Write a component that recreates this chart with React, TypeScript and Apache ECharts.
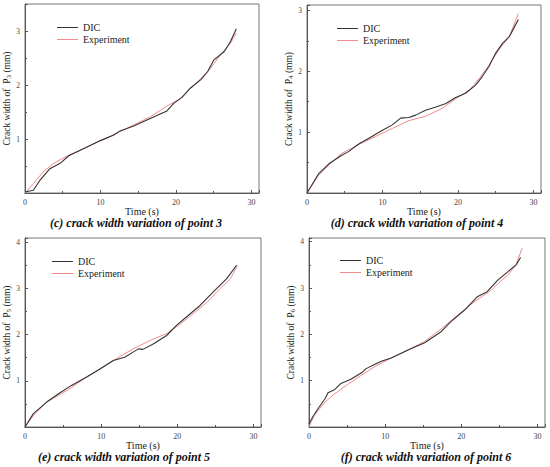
import React, { useEffect, useRef } from "react";
import * as echarts from "echarts";

// Panel (c) point 3
const p3DicT = [0, 1.1, 2.0, 3.3, 4.65, 5.8, 7.3, 10.0, 11.7, 12.6, 14.4, 16.6, 18.8, 19.7, 20.8, 21.9, 23.3, 24.2, 25.0, 26.4, 27.2, 28.0];
const p3DicV = [0.02, 0.05, 0.24, 0.45, 0.55, 0.69, 0.79, 0.97, 1.07, 1.15, 1.24, 1.38, 1.52, 1.66, 1.77, 1.94, 2.1, 2.25, 2.46, 2.62, 2.8, 3.04];
const p3ExpT = [0, 1.1, 2.4, 3.8, 5.5, 7.8, 10.0, 12.2, 14.4, 16.6, 18.8, 20.6, 21.9, 23.3, 24.6, 25.9, 27.2, 28.0];
const p3ExpV = [0, 0.17, 0.39, 0.55, 0.68, 0.82, 0.97, 1.11, 1.26, 1.41, 1.61, 1.75, 1.94, 2.12, 2.31, 2.56, 2.77, 2.96];

// Panel (d) point 4
const p4DicT = [0, 1.55, 2.9, 4.6, 5.5, 6.9, 8.2, 10.0, 11.3, 12.4, 13.5, 14.4, 15.7, 17.0, 18.4, 19.7, 21.0, 22.3, 23.2, 24.1, 25.0, 25.9, 26.8, 27.4, 28.0];
const p4DicV = [0, 0.32, 0.48, 0.62, 0.68, 0.81, 0.9, 1.03, 1.12, 1.23, 1.24, 1.28, 1.36, 1.41, 1.47, 1.57, 1.64, 1.77, 1.91, 2.08, 2.3, 2.46, 2.57, 2.71, 2.85];
const p4ExpT = [0, 1.55, 2.9, 4.6, 6.9, 9.1, 11.3, 13.5, 15.7, 17.9, 19.7, 21.5, 22.8, 24.1, 25.4, 26.8, 28.0];
const p4ExpV = [0, 0.29, 0.46, 0.65, 0.8, 0.93, 1.06, 1.19, 1.26, 1.39, 1.55, 1.69, 1.88, 2.1, 2.35, 2.57, 2.95];

// Panel (e) point 5
const p5DicT = [0, 1.1, 2.85, 4.6, 6.1, 8.1, 9.9, 11.6, 13.1, 14.2, 14.9, 15.5, 16.9, 18.6, 19.9, 21.2, 23.0, 24.7, 26.5, 27.8];
const p5DicV = [0, 0.29, 0.54, 0.74, 0.9, 1.08, 1.26, 1.44, 1.51, 1.62, 1.69, 1.68, 1.8, 1.98, 2.2, 2.38, 2.63, 2.92, 3.21, 3.5];
const p5ExpT = [0, 1.1, 2.85, 5.5, 8.1, 9.9, 12.0, 14.2, 16.4, 18.6, 20.4, 22.1, 23.9, 25.6, 27.0, 27.9];
const p5ExpV = [0, 0.25, 0.54, 0.79, 1.08, 1.26, 1.48, 1.69, 1.87, 2.02, 2.23, 2.45, 2.7, 2.99, 3.21, 3.5];

// Panel (f) point 6
const p6DicT = [0, 0.5, 1.2, 2.1, 2.5, 3.4, 4.2, 5.5, 6.9, 7.5, 8.6, 9.5, 10.8, 13.0, 15.2, 17.3, 18.6, 20.4, 22.1, 23.4, 24.8, 26.1, 27.2, 27.8];
const p6DicV = [0.07, 0.22, 0.4, 0.61, 0.74, 0.81, 0.94, 1.03, 1.17, 1.26, 1.35, 1.42, 1.49, 1.66, 1.82, 2.05, 2.27, 2.52, 2.81, 2.92, 3.17, 3.35, 3.5, 3.66];
const p6ExpT = [0, 0.7, 2.1, 3.4, 5.1, 6.9, 8.6, 10.8, 13.0, 15.2, 17.3, 19.5, 21.7, 23.9, 26.1, 27.2, 28.0];
const p6ExpV = [0, 0.25, 0.54, 0.72, 0.92, 1.12, 1.3, 1.49, 1.66, 1.85, 2.11, 2.41, 2.7, 2.95, 3.28, 3.5, 3.86];

const seriesNames = ["DIC", "Experiment"];
const pointLabels = ["3", "4", "5", "6"];
const captions = [
  "(c) crack width variation of point 3",
  "(d) crack width variation of point 4",
  "(e) crack width variation of point 5",
  "(f) crack width variation of point 6",
];
const xTicks = [0, 10, 20, 30];
const yMaxes = [3.5, 3.09, 4.09, 4.08];

const zip = (t: number[], v: number[]) => t.map((x, i) => [x, v[i]]);

const FONT = "Liberation Serif";

export default function App() {
  const ref = useRef<HTMLDivElement>(null);
  useEffect(() => {
    if (!ref.current) return;
    const chart = echarts.init(ref.current, undefined, { renderer: "svg" });

    const grids = [
      { left: 25, top: 4, width: 234, height: 189 },
      { left: 307, top: 5, width: 234, height: 188 },
      { left: 25, top: 238, width: 236, height: 189 },
      { left: 309, top: 238, width: 236, height: 189 },
    ];
    const data = [
      [zip(p3DicT, p3DicV), zip(p3ExpT, p3ExpV)],
      [zip(p4DicT, p4DicV), zip(p4ExpT, p4ExpV)],
      [zip(p5DicT, p5DicV), zip(p5ExpT, p5ExpV)],
      [zip(p6DicT, p6DicV), zip(p6ExpT, p6ExpV)],
    ];
    const legendPos = [
      { left: 52, top: 17 },
      { left: 332, top: 18 },
      { left: 47, top: 251 },
      { left: 335, top: 250 },
    ];
    const captionPos = [
      { x: 136, y: 223 },
      { x: 417, y: 223 },
      { x: 124, y: 457 },
      { x: 426, y: 457 },
    ];

    const axisCommon = {
      axisLine: { show: true, lineStyle: { color: "#555", width: 1 } },
      axisTick: { show: true, inside: true, length: 3, lineStyle: { color: "#555" } },
      minorTick: { show: true, splitNumber: 2, length: 2, lineStyle: { color: "#555" } },
      splitLine: { show: false },
      minorSplitLine: { show: false },
    };

    const option: any = {
      animation: false,
      backgroundColor: "#fff",
      textStyle: { fontFamily: FONT },
      grid: grids.map((g) => ({ ...g, show: true, borderColor: "#777", borderWidth: 1, backgroundColor: "transparent" })),
      xAxis: grids.map((_, i) => ({
        type: "value",
        gridIndex: i,
        min: xTicks[0],
        max: 31,
        interval: 10,
        ...axisCommon,
        axisLabel: { showMaxLabel: false, color: "#444", fontSize: 8, fontFamily: FONT, margin: 5 },
        name: "Time (s)",
        nameLocation: "middle",
        nameGap: 3,
        nameTextStyle: { color: "#222", fontSize: 10, fontFamily: FONT, lineHeight: 10 },
      })),
      yAxis: grids.map((_, i) => ({
        type: "value",
        gridIndex: i,
        min: 0,
        max: yMaxes[i],
        interval: 1,
        ...axisCommon,
        axisLabel: { showMinLabel: false, showMaxLabel: false, color: "#444", fontSize: 7.5, fontFamily: FONT, margin: 5 },
        name: "Crack width of  P{sub|" + pointLabels[i] + "} (mm)",
        nameLocation: "middle",
        nameGap: 8,
        nameTextStyle: {
          color: "#222",
          fontSize: 9.5,
          fontFamily: FONT,
          rich: { sub: { fontSize: 7, fontFamily: FONT, color: "#222", verticalAlign: "bottom", padding: [3, 0, 0, 0] } },
        },
      })),
      legend: legendPos.map((p) => ({
        ...p,
        orient: "vertical",
        data: seriesNames,
        icon: "rect",
        itemWidth: 21,
        itemHeight: 1,
        itemGap: 1,
        selectedMode: false,
        textStyle: { fontSize: 10, fontFamily: FONT, color: "#222", lineHeight: 11 },
      })),
      series: data.flatMap((pair, i) =>
        pair.map((d, j) => ({
          name: seriesNames[j],
          type: "line",
          xAxisIndex: i,
          yAxisIndex: i,
          data: d,
          showSymbol: false,
          symbol: "none",
          smooth: false,
          color: j === 0 ? "#333" : "#f28a8a",
          lineStyle: { width: j === 0 ? 1.1 : 1, color: j === 0 ? "#333" : "#f28a8a" },
          z: j === 0 ? 3 : 2,
        }))
      ),
      graphic: captions.map((c, i) => ({
        type: "text",
        x: captionPos[i].x,
        y: captionPos[i].y,
        style: {
          text: c,
          fill: "#111",
          fontFamily: FONT,
          fontSize: 12,
          fontStyle: "italic",
          fontWeight: "bold",
          textAlign: "center",
          textVerticalAlign: "middle",
        },
      })),
    };
    chart.setOption(option);
    return () => chart.dispose();
  }, []);
  return (
    <div
      ref={ref}
      style={{ position: "absolute", left: 0, top: 0, width: 550, height: 467, background: "#fff" }}
    />
  );
}
